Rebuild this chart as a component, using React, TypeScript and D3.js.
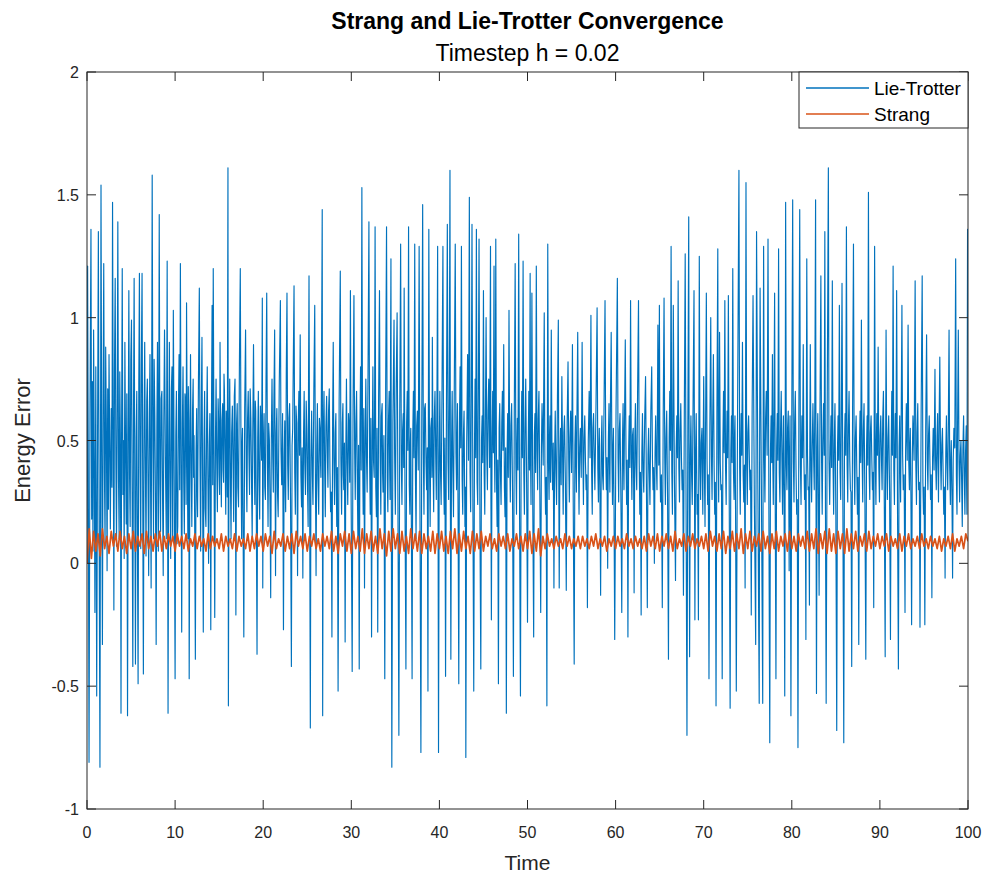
import React from "react";
import * as d3 from "d3";

// ---------- data ----------
const xTicks = [0, 10, 20, 30, 40, 50, 60, 70, 80, 90, 100];
const yTicks = [-1, -0.5, 0, 0.5, 1, 1.5, 2];
const yTickLabels = ["-1", "-0.5", "0", "0.5", "1", "1.5", "2"];
const seriesNames = ["Lie-Trotter", "Strang"];
const strangStep = 0.25;

// Lie-Trotter energy error, [time, error]
const lieTrotter00: [number, number][] = [
  [0.0,0.0],[0.07,1.21],[0.15,0.35],[0.23,-0.81],[0.34,0.62],[0.45,1.36],[0.53,0.18],[0.6,0.74],[0.68,0.05],[0.75,0.95],[0.83,0.41],[0.9,-0.2],[1.0,0.8],[1.1,-0.54],[1.2,0.52],[1.29,1.35],[1.38,0.12],[1.47,-0.83],[1.59,1.54],[1.67,0.44],[1.75,-0.33],[1.83,0.68],[1.9,1.22],[1.98,0.37],[2.05,0.08],[2.12,0.88],[2.2,0.55],[2.28,-0.03],[2.35,0.71],[2.43,0.22],[2.5,0.85],[2.58,0.46],[2.65,0.14],[2.75,0.63],[2.83,0.31],[2.9,1.47],[2.98,0.52],[3.05,-0.19],[3.12,0.79],[3.2,1.16],[3.28,0.4],[3.35,0.07],[3.43,0.66],[3.5,1.39],[3.58,0.33],[3.65,0.1],[3.72,0.78],[3.8,0.45],[3.86,-0.61],[3.93,0.57],[4.0,1.2],[4.08,0.28],[4.15,0.5],[4.22,0.02],[4.3,0.9],[4.38,0.44],[4.45,0.16],[4.52,0.69],[4.6,-0.62],[4.68,0.48],[4.75,1.11],[4.83,0.36],[4.9,0.15],[4.97,0.83],[5.05,0.99],[5.12,0.3],[5.2,-0.42],[5.28,0.62],[5.35,1.16],[5.43,0.27],[5.5,-0.41],[5.58,0.51],[5.65,0.7],[5.72,0.12],[5.8,-0.49],[5.88,0.73],[5.95,1.18],[6.03,0.39],[6.1,0.06],[6.17,0.82],[6.25,1.18],[6.33,0.24],[6.4,-0.45],[6.48,0.58],[6.55,0.9],[6.62,0.43],[6.7,0.03],[6.78,0.66],[6.85,0.75],[6.92,0.35],[7.0,-0.05],[7.08,0.61],[7.15,0.85],[7.22,0.29],[7.28,-0.1],[7.34,0.72],[7.4,1.58],[7.48,0.47],[7.55,0.1],[7.62,0.83],[7.7,0.6],[7.78,0.21],[7.85,-0.33],[7.93,0.55],[8.0,0.9],[8.05,0.38],[8.1,0.05],[8.15,0.74],[8.2,1.42],[8.28,0.32],[8.35,0.13],[8.42,0.67],[8.5,0.7],[8.58,0.26],[8.65,-0.05],[8.72,0.59],[8.8,0.95],[8.9,0.42],[9.0,0.1],[9.05,0.64],[9.1,1.23],[9.15,0.3],[9.2,-0.61],[9.28,0.48],[9.35,0.9],[9.42,0.37],[9.5,0.02],[9.58,0.71],[9.65,0.8],[9.72,0.1],[9.8,1.03],[9.9,0.34],
];
const lieTrotter10: [number, number][] = [
  [10.0,-0.47],[10.08,0.52],[10.15,0.7],[10.22,0.08],[10.3,0.15],[10.38,0.63],[10.45,0.85],[10.52,0.3],[10.6,1.22],[10.68,0.41],[10.75,-0.28],[10.83,0.57],[10.9,0.8],[10.98,0.33],[11.05,0.12],[11.12,0.69],[11.2,0.65],[11.25,0.24],[11.3,1.06],[11.38,0.46],[11.45,0.1],[11.5,0.72],[11.55,0.58],[11.6,-0.47],[11.68,0.43],[11.75,0.85],[11.83,0.37],[11.9,0.15],[11.98,0.62],[12.05,0.75],[12.1,0.35],[12.15,0.52],[12.22,0.18],[12.3,-0.39],[12.38,0.46],[12.45,0.63],[12.5,0.27],[12.55,0.19],[12.65,0.74],[12.75,1.12],[12.83,0.4],[12.9,0.05],[12.98,0.66],[13.05,0.92],[13.12,0.31],[13.2,-0.28],[13.28,0.49],[13.35,0.7],[13.42,0.22],[13.5,0.15],[13.58,0.57],[13.65,0.8],[13.72,0.36],[13.8,0.0],[13.88,0.48],[13.95,0.61],[14.0,0.3],[14.05,-0.27],[14.12,0.55],[14.2,1.05],[14.27,0.32],[14.33,1.2],[14.42,0.38],[14.5,-0.22],[14.58,0.49],[14.65,0.75],[14.72,0.43],[14.8,0.21],[14.88,0.67],[14.95,0.57],[15.0,0.36],[15.05,0.28],[15.1,0.9],[15.18,0.47],[15.25,0.23],[15.32,0.58],[15.4,0.65],[15.45,0.38],[15.5,0.33],[15.55,0.77],[15.6,0.7],[15.68,0.41],[15.75,0.2],[15.8,0.62],[15.85,0.55],[15.92,0.27],[16.0,1.61],[16.05,-0.58],[16.12,0.46],[16.2,0.75],[16.28,0.34],[16.35,0.1],[16.42,0.53],[16.5,0.64],[16.58,0.39],[16.65,0.17],[16.72,0.68],[16.8,0.75],[16.85,0.31],[16.9,-0.21],[16.98,0.57],[17.05,0.65],[17.12,0.31],[17.2,0.23],[17.3,0.81],[17.4,1.2],[17.48,0.44],[17.55,0.1],[17.6,0.49],[17.65,0.55],[17.72,0.12],[17.8,-0.3],[17.9,0.63],[18.0,0.95],[18.08,0.39],[18.15,0.21],[18.22,0.58],[18.3,0.7],[18.38,0.45],[18.45,0.28],[18.52,0.71],[18.6,0.59],[18.68,0.32],[18.75,0.1],[18.82,0.54],[18.9,0.89],[18.98,0.48],[19.05,0.24],[19.1,0.66],[19.15,0.62],[19.22,0.19],[19.3,-0.37],[19.38,0.51],[19.45,0.7],[19.52,0.35],[19.6,0.18],[19.68,0.64],[19.75,0.55],[19.82,0.42],[19.9,1.08],[19.95,-0.1],
];
const lieTrotter20: [number, number][] = [
  [20.02,0.47],[20.1,0.61],[20.18,0.31],[20.25,0.26],[20.32,0.74],[20.4,1.1],[20.48,0.42],[20.55,0.15],[20.62,0.57],[20.7,0.5],[20.78,0.22],[20.85,-0.14],[20.92,0.49],[21.0,0.75],[21.08,0.44],[21.15,0.29],[21.22,0.68],[21.3,0.95],[21.35,0.38],[21.4,-0.05],[21.48,0.53],[21.55,0.63],[21.62,0.29],[21.7,0.19],[21.82,0.72],[21.95,1.07],[22.02,0.46],[22.1,0.32],[22.2,0.61],[22.3,-0.27],[22.38,0.43],[22.45,0.58],[22.5,0.33],[22.55,0.21],[22.62,0.78],[22.7,1.1],[22.78,0.4],[22.85,0.26],[22.92,0.59],[23.0,0.65],[23.1,0.26],[23.2,-0.42],[23.28,0.48],[23.35,0.55],[23.42,0.83],[23.5,1.13],[23.58,0.37],[23.65,0.2],[23.72,0.64],[23.8,0.57],[23.85,0.31],[23.9,-0.05],[23.98,0.57],[24.05,0.7],[24.12,0.44],[24.2,0.93],[24.28,0.36],[24.35,0.23],[24.42,0.47],[24.5,-0.06],[24.58,0.52],[24.65,0.7],[24.72,0.41],[24.8,0.28],[24.88,0.66],[24.95,0.55],[25.02,0.34],[25.1,0.15],[25.15,0.77],[25.2,1.17],[25.28,0.21],[25.35,-0.67],[25.42,0.43],[25.5,0.62],[25.58,0.36],[25.65,0.24],[25.75,0.71],[25.85,1.05],[25.92,0.39],[26.0,-0.05],[26.08,0.48],[26.15,0.65],[26.22,0.34],[26.3,0.2],[26.38,0.59],[26.45,0.55],[26.5,0.42],[26.55,0.35],[26.62,0.82],[26.7,1.44],[26.75,-0.62],[26.82,0.51],[26.9,0.7],[26.98,0.38],[27.05,0.19],[27.12,0.56],[27.2,0.68],[27.28,0.45],[27.35,0.31],[27.42,0.62],[27.5,0.71],[27.58,0.37],[27.65,0.21],[27.72,0.29],[27.8,-0.3],[27.88,0.58],[27.95,0.9],[28.02,0.43],[28.1,0.24],[28.18,0.53],[28.25,0.61],[28.3,0.31],[28.35,0.15],[28.42,0.39],[28.5,-0.52],[28.62,0.66],[28.75,1.19],[28.82,0.42],[28.9,0.2],[28.98,0.57],[29.05,0.65],[29.1,0.36],[29.15,0.3],[29.22,0.49],[29.3,-0.32],[29.38,0.46],[29.45,0.75],[29.52,0.41],[29.6,0.24],[29.68,0.61],[29.75,0.55],[29.82,0.33],[29.9,1.11],[29.98,0.27],
];
const lieTrotter30: [number, number][] = [
  [30.1,-0.44],[30.2,0.64],[30.3,1.09],[30.38,0.46],[30.45,0.26],[30.52,0.57],[30.6,0.7],[30.68,0.33],[30.75,0.1],[30.82,0.48],[30.9,-0.43],[30.98,0.54],[31.05,0.8],[31.12,0.38],[31.2,1.53],[31.28,0.46],[31.35,0.2],[31.42,0.63],[31.5,-0.1],[31.58,0.52],[31.65,0.75],[31.72,0.44],[31.8,0.29],[31.9,0.78],[32.0,1.39],[32.08,0.41],[32.15,0.2],[32.22,0.59],[32.3,-0.3],[32.38,0.49],[32.45,0.8],[32.52,0.42],[32.6,0.35],[32.65,0.69],[32.7,1.37],[32.78,0.31],[32.85,0.19],[32.92,0.55],[33.0,-0.28],[33.1,0.67],[33.2,1.11],[33.28,0.43],[33.35,0.2],[33.42,0.6],[33.5,0.65],[33.55,0.37],[33.6,0.29],[33.7,0.52],[33.8,-0.47],[33.9,0.72],[34.0,1.37],[34.08,0.35],[34.15,0.21],[34.22,0.58],[34.3,0.7],[34.35,0.4],[34.4,0.26],[34.45,0.81],[34.5,1.24],[34.55,0.12],[34.6,-0.83],[34.72,0.57],[34.85,0.99],[34.92,0.44],[35.0,0.2],[35.1,0.73],[35.2,1.02],[35.3,0.18],[35.4,-0.7],[35.5,0.62],[35.6,1.3],[35.68,0.4],[35.75,0.24],[35.82,0.54],[35.9,0.61],[35.95,0.39],[36.0,1.12],[36.1,0.21],[36.2,-0.43],[36.28,0.57],[36.35,0.7],[36.42,0.46],[36.5,1.37],[36.58,0.32],[36.65,0.2],[36.7,0.49],[36.75,0.55],[36.82,0.14],[36.9,-0.47],[36.98,0.53],[37.05,0.7],[37.12,0.43],[37.2,1.3],[37.28,0.36],[37.35,0.1],[37.42,0.56],[37.5,0.62],[37.6,0.38],[37.7,1.29],[37.8,0.17],[37.9,-0.77],[38.0,0.58],[38.1,1.46],[38.18,0.44],[38.25,0.2],[38.32,0.63],[38.4,0.65],[38.48,0.41],[38.55,0.3],[38.62,0.47],[38.7,-0.52],[38.75,0.6],[38.8,1.36],[38.88,0.39],[38.95,0.15],[39.02,0.55],[39.1,0.59],[39.15,0.35],[39.2,0.92],[39.28,0.41],[39.35,0.21],[39.42,0.59],[39.5,0.7],[39.58,0.44],[39.65,0.26],[39.72,0.66],[39.8,1.29],[39.85,0.2],[39.9,-0.77],[39.98,0.43],
];
const lieTrotter40: [number, number][] = [
  [40.05,0.7],[40.12,0.38],[40.2,0.24],[40.3,0.73],[40.4,1.29],[40.48,0.36],[40.55,0.2],[40.62,0.51],[40.7,-0.46],[40.8,0.64],[40.9,1.38],[40.98,0.42],[41.05,0.26],[41.12,0.69],[41.2,1.6],[41.25,0.2],[41.3,-0.39],[41.38,0.48],[41.45,0.7],[41.52,0.39],[41.6,0.19],[41.7,0.78],[41.8,1.3],[41.88,0.45],[41.95,0.3],[42.0,0.52],[42.05,0.65],[42.12,0.2],[42.2,-0.49],[42.28,0.57],[42.35,0.8],[42.42,0.47],[42.5,1.29],[42.58,0.34],[42.65,0.2],[42.72,0.51],[42.8,0.62],[42.85,0.36],[42.9,0.15],[42.95,0.31],[43.0,-0.79],[43.1,0.49],[43.2,0.85],[43.3,0.42],[43.4,1.49],[43.48,0.37],[43.55,0.21],[43.62,0.66],[43.7,1.38],[43.8,0.25],[43.9,-0.52],[43.98,0.46],[44.05,0.75],[44.12,0.43],[44.2,1.36],[44.28,0.33],[44.35,0.24],[44.42,0.71],[44.5,1.32],[44.6,0.18],[44.7,-0.43],[44.78,0.5],[44.85,0.6],[44.92,0.41],[45.0,1.11],[45.08,0.37],[45.15,0.2],[45.22,0.58],[45.3,1.0],[45.38,0.44],[45.45,0.3],[45.52,0.62],[45.6,0.75],[45.7,0.39],[45.8,1.29],[45.85,0.26],[45.9,-0.23],[45.98,0.51],[46.05,0.7],[46.12,0.45],[46.2,1.21],[46.25,0.46],[46.3,0.29],[46.35,0.66],[46.4,1.32],[46.48,0.34],[46.55,0.15],[46.62,0.42],[46.7,-0.49],[46.78,0.55],[46.85,0.65],[46.92,0.38],[47.0,0.24],[47.08,0.57],[47.15,0.7],[47.22,0.46],[47.3,0.89],[47.38,0.31],[47.45,0.19],[47.52,0.47],[47.6,-0.61],[47.68,0.43],[47.75,0.61],[47.82,0.35],[47.9,1.03],[47.98,0.44],[48.05,0.25],[48.12,0.56],[48.2,0.65],[48.3,0.29],[48.4,-0.46],[48.5,0.61],[48.6,1.22],[48.68,0.4],[48.75,0.2],[48.8,0.48],[48.85,0.59],[48.92,0.38],[49.0,1.34],[49.1,0.21],[49.2,-0.54],[49.28,0.48],[49.35,0.7],[49.42,0.43],[49.5,1.23],[49.58,0.37],[49.65,0.2],[49.72,0.54],[49.8,0.75],[49.9,0.33],
];
const lieTrotter50: [number, number][] = [
  [50.0,-0.24],[50.08,0.46],[50.15,0.7],[50.22,0.38],[50.3,1.18],[50.35,0.41],[50.4,0.24],[50.45,0.63],[50.5,1.1],[50.6,0.22],[50.7,-0.3],[50.78,0.52],[50.85,0.61],[50.92,0.37],[51.0,1.21],[51.08,0.46],[51.15,0.3],[51.22,0.59],[51.3,0.7],[51.4,0.28],[51.5,-0.2],[51.58,0.47],[51.65,0.65],[51.78,0.4],[51.9,1.02],[51.98,0.36],[52.05,0.2],[52.12,0.35],[52.2,-0.58],[52.25,0.45],[52.3,1.3],[52.38,0.41],[52.45,0.26],[52.5,0.52],[52.55,0.6],[52.62,0.33],[52.7,0.95],[52.78,0.44],[52.85,0.3],[52.92,0.49],[53.0,-0.1],[53.08,0.44],[53.15,0.62],[53.22,0.38],[53.3,0.24],[53.4,0.68],[53.5,0.99],[53.55,0.35],[53.6,-0.1],[53.68,0.43],[53.75,0.55],[53.82,0.32],[53.9,0.76],[53.98,0.45],[54.05,0.2],[54.12,0.53],[54.2,0.6],[54.3,0.33],[54.4,-0.11],[54.5,0.57],[54.6,0.82],[54.68,0.42],[54.75,0.25],[54.82,0.51],[54.9,0.62],[55.0,0.37],[55.1,0.89],[55.2,0.19],[55.3,-0.41],[55.38,0.48],[55.45,0.6],[55.5,0.4],[55.55,0.29],[55.62,0.63],[55.7,0.94],[55.78,0.44],[55.85,0.2],[55.92,0.47],[56.0,0.55],[56.1,0.35],[56.2,0.9],[56.28,0.46],[56.35,0.24],[56.42,0.51],[56.5,0.6],[56.58,0.41],[56.65,0.3],[56.72,0.36],[56.8,-0.18],[56.9,0.5],[57.0,0.7],[57.1,0.43],[57.2,1.01],[57.28,0.37],[57.35,0.2],[57.42,0.55],[57.5,0.61],[57.58,0.42],[57.65,0.3],[57.78,0.66],[57.9,1.04],[57.98,0.39],[58.05,0.25],[58.1,0.47],[58.15,0.55],[58.22,0.29],[58.3,-0.13],[58.38,0.48],[58.45,0.6],[58.52,0.36],[58.6,0.3],[58.7,0.69],[58.8,1.07],[58.88,0.45],[58.95,0.3],[59.02,0.43],[59.1,-0.02],[59.18,0.5],[59.25,0.65],[59.3,0.41],[59.35,0.29],[59.42,0.67],[59.5,0.94],[59.58,0.43],[59.65,0.24],[59.7,0.48],[59.75,0.55],[59.82,0.24],[59.9,-0.31],[60.05,0.62],
];
const lieTrotter60: [number, number][] = [
  [60.2,1.16],[60.28,0.43],[60.35,0.25],[60.42,0.54],[60.5,0.61],[60.6,0.27],[60.7,-0.2],[60.78,0.49],[60.85,0.65],[60.9,0.4],[60.95,0.3],[61.02,0.61],[61.1,0.91],[61.18,0.44],[61.25,0.24],[61.32,0.42],[61.4,-0.3],[61.48,0.46],[61.55,0.6],[61.62,0.39],[61.7,1.07],[61.78,0.45],[61.85,0.26],[61.92,0.52],[62.0,0.55],[62.05,0.32],[62.1,-0.12],[62.18,0.49],[62.25,0.65],[62.32,0.4],[62.4,0.3],[62.5,0.71],[62.6,1.07],[62.68,0.41],[62.75,0.2],[62.82,0.37],[62.9,-0.21],[62.98,0.45],[63.05,0.61],[63.12,0.38],[63.2,0.29],[63.3,0.58],[63.4,0.76],[63.5,0.31],[63.6,-0.18],[63.68,0.44],[63.75,0.55],[63.82,0.38],[63.9,0.24],[64.0,0.62],[64.1,0.8],[64.18,0.43],[64.25,0.3],[64.32,0.39],[64.4,0.0],[64.48,0.45],[64.55,0.6],[64.62,0.41],[64.7,0.3],[64.75,0.63],[64.8,0.97],[64.9,0.4],[64.97,1.05],[65.03,0.42],[65.1,0.25],[65.2,0.36],[65.3,-0.18],[65.4,0.57],[65.5,1.08],[65.58,0.43],[65.65,0.24],[65.72,0.51],[65.8,0.62],[65.9,0.26],[66.0,-0.39],[66.08,0.51],[66.15,0.7],[66.22,0.46],[66.3,1.29],[66.38,0.37],[66.45,0.2],[66.5,0.61],[66.55,1.05],[66.68,0.33],[66.8,-0.07],[66.88,0.47],[66.95,0.6],[67.02,0.43],[67.1,1.15],[67.18,0.39],[67.25,0.25],[67.32,0.54],[67.4,0.65],[67.48,0.42],[67.55,0.3],[67.62,0.38],[67.7,-0.13],[67.8,0.61],[67.9,1.26],[68.0,0.22],[68.1,-0.7],[68.2,0.55],[68.3,1.41],[68.35,0.3],[68.4,-0.38],[68.48,0.44],[68.55,0.6],[68.62,0.37],[68.7,0.24],[68.8,0.68],[68.9,1.11],[68.95,0.4],[69.0,-0.23],[69.08,0.46],[69.15,0.61],[69.2,0.38],[69.25,0.2],[69.32,0.28],[69.4,-0.23],[69.45,0.52],[69.5,1.25],[69.58,0.4],[69.65,0.26],[69.72,0.49],[69.8,0.55],[69.85,0.36],[69.9,0.2],[69.95,0.5],
];
const lieTrotter70: [number, number][] = [
  [70.0,0.76],[70.08,0.38],[70.15,0.15],[70.22,0.6],[70.3,1.1],[70.38,0.42],[70.45,0.24],[70.52,0.36],[70.6,-0.47],[70.7,0.55],[70.8,1.0],[70.88,0.44],[70.95,0.26],[71.02,0.58],[71.1,0.85],[71.18,0.4],[71.25,0.2],[71.32,0.33],[71.4,-0.58],[71.5,0.61],[71.6,1.28],[71.65,0.43],[71.7,0.25],[71.75,0.6],[71.8,0.94],[71.88,0.41],[71.95,0.3],[72.02,0.32],[72.1,-0.47],[72.18,0.49],[72.25,0.7],[72.32,0.45],[72.4,1.07],[72.48,0.39],[72.55,0.24],[72.6,0.48],[72.65,0.62],[72.72,0.43],[72.8,1.09],[72.9,0.24],[73.0,-0.59],[73.08,0.46],[73.15,0.6],[73.22,0.41],[73.3,1.2],[73.38,0.37],[73.45,0.26],[73.5,0.52],[73.55,0.6],[73.62,0.19],[73.7,-0.52],[73.85,0.66],[74.0,1.6],[74.08,0.39],[74.15,0.2],[74.2,0.49],[74.25,0.61],[74.32,0.44],[74.4,0.9],[74.48,0.36],[74.55,0.25],[74.62,0.4],[74.7,-0.1],[74.75,0.62],[74.8,1.55],[74.88,0.4],[74.95,0.24],[75.02,0.53],[75.1,0.6],[75.18,0.43],[75.25,0.3],[75.32,0.38],[75.4,-0.21],[75.5,0.63],[75.6,1.09],[75.75,0.25],[75.9,-0.33],[75.95,0.52],[76.0,1.35],[76.15,0.3],[76.3,-0.57],[76.35,0.49],[76.4,1.12],[76.55,0.3],[76.7,-0.57],[76.75,0.54],[76.8,1.29],[76.88,0.42],[76.95,0.25],[77.02,0.58],[77.1,0.7],[77.2,0.44],[77.3,1.32],[77.4,0.2],[77.5,-0.73],[77.58,0.46],[77.65,0.6],[77.72,0.41],[77.8,0.85],[77.85,0.4],[77.9,0.24],[77.98,0.66],[78.05,1.1],[78.12,0.24],[78.2,-0.47],[78.28,0.47],[78.35,0.61],[78.42,0.42],[78.5,1.28],[78.58,0.37],[78.65,0.25],[78.72,0.53],[78.8,0.7],[78.88,0.41],[78.95,0.2],[79.0,0.44],[79.05,0.6],[79.12,0.27],[79.2,-0.54],[79.25,0.48],[79.3,1.47],[79.38,0.4],[79.45,0.3],[79.52,0.55],[79.6,0.62],[79.65,0.33],[79.7,-0.03],[79.75,0.45],[79.8,0.6],[79.85,0.18],[79.9,-0.62],[80.0,0.61],
];
const lieTrotter80: [number, number][] = [
  [80.1,1.48],[80.18,0.41],[80.25,0.25],[80.32,0.57],[80.4,0.7],[80.48,0.38],[80.55,0.2],[80.62,0.26],[80.7,-0.75],[80.8,0.58],[80.9,1.44],[80.98,0.4],[81.05,0.24],[81.1,0.49],[81.15,0.6],[81.22,0.43],[81.3,0.89],[81.38,0.41],[81.45,0.26],[81.52,0.36],[81.6,-0.31],[81.65,0.52],[81.7,1.24],[81.78,0.44],[81.85,0.3],[81.92,0.31],[82.0,-0.17],[82.05,0.54],[82.1,0.89],[82.18,0.38],[82.25,0.25],[82.32,0.48],[82.4,0.65],[82.48,0.43],[82.55,0.3],[82.62,0.71],[82.7,1.48],[82.75,0.26],[82.8,-0.53],[82.88,0.47],[82.95,0.61],[83.02,0.28],[83.1,-0.13],[83.2,0.62],[83.3,1.17],[83.38,0.42],[83.45,0.2],[83.52,0.5],[83.6,0.65],[83.68,0.44],[83.75,1.35],[83.82,0.22],[83.9,-0.57],[84.02,0.64],[84.15,1.61],[84.22,0.42],[84.3,0.24],[84.38,0.47],[84.45,0.6],[84.52,0.39],[84.6,1.15],[84.68,0.4],[84.75,0.2],[84.82,0.49],[84.9,0.65],[85.0,0.2],[85.1,-0.68],[85.18,0.45],[85.25,0.6],[85.32,0.42],[85.4,1.05],[85.48,0.37],[85.55,0.26],[85.62,0.58],[85.7,1.14],[85.8,0.21],[85.9,-0.73],[85.98,0.49],[86.05,0.61],[86.12,0.44],[86.2,1.37],[86.28,0.4],[86.35,0.25],[86.42,0.55],[86.5,0.7],[86.58,0.42],[86.65,0.3],[86.72,0.29],[86.8,-0.42],[86.9,0.63],[87.0,1.3],[87.08,0.41],[87.15,0.24],[87.22,0.51],[87.3,0.6],[87.38,0.37],[87.45,0.2],[87.52,0.35],[87.6,-0.33],[87.68,0.48],[87.75,0.62],[87.82,0.41],[87.9,0.99],[87.98,0.44],[88.05,0.25],[88.12,0.54],[88.2,0.65],[88.3,0.24],[88.4,-0.39],[88.48,0.46],[88.55,0.6],[88.62,0.4],[88.7,1.51],[88.78,0.38],[88.85,0.26],[88.92,0.53],[89.0,0.6],[89.08,0.43],[89.15,0.3],[89.22,0.37],[89.3,-0.18],[89.35,0.57],[89.4,1.29],[89.48,0.41],[89.55,0.24],[89.6,0.5],[89.65,0.61],[89.72,0.44],[89.8,0.88],[89.88,0.39],
];
const lieTrotter90: [number, number][] = [
  [89.95,0.25],[90.02,0.52],[90.1,0.6],[90.18,0.42],[90.25,0.3],[90.32,0.58],[90.4,0.7],[90.5,0.24],[90.6,-0.38],[90.65,0.47],[90.7,0.95],[90.78,0.41],[90.85,0.26],[90.92,0.51],[91.0,0.6],[91.1,0.29],[91.2,-0.31],[91.28,0.46],[91.35,0.7],[91.42,0.44],[91.5,1.21],[91.58,0.38],[91.65,0.24],[91.7,0.48],[91.75,0.61],[91.82,0.43],[91.9,1.11],[92.0,0.22],[92.1,-0.43],[92.18,0.47],[92.25,0.6],[92.3,0.37],[92.35,0.25],[92.42,0.61],[92.5,1.05],[92.58,0.44],[92.65,0.3],[92.75,0.36],[92.85,-0.2],[92.92,0.46],[93.0,0.65],[93.1,0.42],[93.2,0.97],[93.28,0.41],[93.35,0.3],[93.4,0.49],[93.45,0.55],[93.52,0.28],[93.6,-0.25],[93.68,0.44],[93.75,0.6],[93.88,0.42],[94.0,1.15],[94.08,0.4],[94.15,0.24],[94.22,0.53],[94.3,0.65],[94.35,0.43],[94.4,0.3],[94.48,0.33],[94.55,-0.26],[94.68,0.61],[94.8,1.17],[94.88,0.33],[94.95,0.2],[95.02,0.31],[95.1,-0.25],[95.2,0.55],[95.3,0.93],[95.38,0.42],[95.45,0.3],[95.52,0.52],[95.6,0.6],[95.68,0.41],[95.75,0.26],[95.82,0.36],[95.9,-0.14],[95.98,0.43],[96.05,0.55],[96.15,0.38],[96.25,0.79],[96.32,0.42],[96.4,0.3],[96.48,0.51],[96.55,0.61],[96.6,0.39],[96.65,0.25],[96.72,0.57],[96.8,0.84],[96.88,0.43],[96.95,0.3],[97.02,0.48],[97.1,0.55],[97.18,0.36],[97.25,0.2],[97.32,0.31],[97.4,-0.06],[97.48,0.45],[97.55,0.6],[97.62,0.41],[97.7,0.3],[97.78,0.62],[97.85,0.95],[97.92,0.4],[98.0,0.24],[98.05,0.43],[98.1,0.5],[98.18,0.27],[98.25,-0.06],[98.32,0.42],[98.4,0.55],[98.5,0.47],[98.6,1.24],[98.68,0.36],[98.75,0.2],[98.82,0.58],[98.9,0.95],[98.98,0.41],[99.05,0.25],[99.12,0.44],[99.2,0.5],[99.28,0.33],[99.35,0.15],[99.42,0.46],[99.5,0.6],[99.58,0.36],[99.65,0.2],[99.72,0.45],[99.8,0.56],[99.84,0.32],[99.88,0.2],[99.95,1.36],[100.0,0.91],
];

// Strang energy error, one value every 0.25 time units
const strang00 = [0.00,0.14,0.02,0.13,0.05,0.12,0.03,0.14,0.06,0.11,0.04,0.13,0.07,0.12,0.05,0.13,0.06,0.11,0.04,0.12, 0.06,0.13,0.05,0.11,0.07,0.12,0.04,0.13,0.06,0.11,0.05,0.12,0.07,0.13,0.05,0.11,0.06,0.12,0.07,0.11];
const strang10 = [0.05,0.12,0.07,0.11,0.06,0.12,0.05,0.10,0.07,0.12,0.06,0.11,0.07,0.10,0.05,0.12,0.06,0.11,0.07,0.10, 0.06,0.12,0.05,0.11,0.07,0.10,0.06,0.12,0.05,0.11,0.07,0.10,0.06,0.12,0.05,0.11,0.06,0.12,0.07,0.11];
const strang20 = [0.05,0.12,0.07,0.11,0.04,0.13,0.06,0.10,0.07,0.12,0.05,0.11,0.06,0.12,0.04,0.13,0.07,0.11,0.06,0.12, 0.05,0.11,0.07,0.12,0.06,0.10,0.05,0.12,0.07,0.11,0.06,0.13,0.05,0.11,0.04,0.12,0.07,0.13,0.05,0.12];
const strang30 = [0.04,0.13,0.06,0.11,0.05,0.14,0.04,0.12,0.06,0.13,0.05,0.11,0.04,0.14,0.06,0.12,0.03,0.13,0.05,0.14, 0.06,0.12,0.04,0.13,0.05,0.11,0.04,0.14,0.06,0.12,0.05,0.13,0.04,0.12,0.06,0.11,0.05,0.13,0.04,0.12];
const strang40 = [0.06,0.13,0.05,0.11,0.04,0.13,0.06,0.14,0.04,0.12,0.05,0.13,0.06,0.11,0.04,0.13,0.05,0.12,0.06,0.13, 0.05,0.11,0.07,0.12,0.06,0.10,0.05,0.12,0.07,0.11,0.06,0.12,0.05,0.10,0.07,0.12,0.06,0.11,0.05,0.12];
const strang50 = [0.06,0.13,0.04,0.12,0.05,0.14,0.03,0.11,0.06,0.12,0.07,0.10,0.06,0.11,0.07,0.10,0.06,0.12,0.07,0.11, 0.06,0.10,0.07,0.11,0.06,0.11,0.07,0.10,0.06,0.11,0.07,0.12,0.06,0.10,0.07,0.11,0.05,0.10,0.07,0.11];
const strang60 = [0.06,0.11,0.07,0.10,0.06,0.12,0.07,0.10,0.06,0.11,0.07,0.10,0.06,0.11,0.05,0.12,0.07,0.11,0.06,0.12, 0.05,0.11,0.07,0.12,0.06,0.11,0.05,0.13,0.06,0.10,0.07,0.12,0.05,0.11,0.07,0.12,0.06,0.10,0.07,0.11];
const strang70 = [0.06,0.12,0.05,0.13,0.07,0.11,0.05,0.12,0.06,0.13,0.04,0.11,0.06,0.13,0.05,0.12,0.06,0.14,0.04,0.12, 0.06,0.13,0.05,0.11,0.07,0.12,0.05,0.13,0.06,0.11,0.04,0.12,0.06,0.13,0.05,0.11,0.07,0.12,0.05,0.13];
const strang80 = [0.06,0.11,0.05,0.12,0.07,0.11,0.06,0.13,0.05,0.12,0.06,0.14,0.04,0.12,0.06,0.13,0.04,0.14,0.05,0.12, 0.04,0.13,0.06,0.12,0.04,0.14,0.05,0.12,0.06,0.13,0.05,0.11,0.07,0.12,0.05,0.13,0.06,0.11,0.07,0.12];
const strang90 = [0.06,0.11,0.07,0.12,0.05,0.11,0.07,0.10,0.06,0.12,0.05,0.11,0.07,0.12,0.06,0.10,0.07,0.11,0.06,0.12, 0.07,0.10,0.06,0.11,0.07,0.10,0.06,0.11,0.05,0.10,0.07,0.11,0.06,0.12,0.05,0.10,0.07,0.11,0.06,0.12, 0.09];

const lieTrotter: [number, number][] = [
  ...lieTrotter00, ...lieTrotter10, ...lieTrotter20, ...lieTrotter30, ...lieTrotter40,
  ...lieTrotter50, ...lieTrotter60, ...lieTrotter70, ...lieTrotter80, ...lieTrotter90,
];
const strangValues = [
  ...strang00, ...strang10, ...strang20, ...strang30, ...strang40,
  ...strang50, ...strang60, ...strang70, ...strang80, ...strang90,
];
const strang: [number, number][] = strangValues.map((v, i) => [i * strangStep, v]);

// ---------- layout ----------
const W = 988;
const H = 876;
const L = 87, R = 968, T = 72, B = 809;
const AX = "#262626";
const FONT = "'Liberation Sans', Arial, Helvetica, sans-serif";
const BLUE = "#0072BD";
const ORANGE = "#D95319";

export default function App() {
  const x = d3.scaleLinear().domain([0, 100]).range([L, R]);
  const y = d3.scaleLinear().domain([-1, 2]).range([B, T]);
  const line = d3.line<[number, number]>().x((d) => x(d[0])).y((d) => y(d[1]));
  const tickLen = 9;

  return (
    <svg width={W} height={H} style={{ position: "absolute", left: 0, top: 0, background: "#fff" }}
      fontFamily={FONT}>
      <rect x={0} y={0} width={W} height={H} fill="#fff" />
      <defs>
        <clipPath id="plotClip">
          <rect x={L} y={T} width={R - L} height={B - T} />
        </clipPath>
      </defs>

      <g clipPath="url(#plotClip)" fill="none">
        <path d={line(lieTrotter) || ""} stroke={BLUE} strokeWidth={1.15} strokeLinejoin="round" />
        <path d={line(strang) || ""} stroke={ORANGE} strokeWidth={1.7} strokeLinejoin="round" />
      </g>

      {/* axes box */}
      <rect x={L} y={T} width={R - L} height={B - T} fill="none" stroke={AX} strokeWidth={1} />

      {/* x ticks */}
      {xTicks.map((t) => (
        <g key={"x" + t}>
          <line x1={x(t)} x2={x(t)} y1={B} y2={B - tickLen} stroke={AX} />
          <line x1={x(t)} x2={x(t)} y1={T} y2={T + tickLen} stroke={AX} />
          <text x={x(t)} y={838} textAnchor="middle" fontSize={16} fill={AX}>{t}</text>
        </g>
      ))}
      {/* y ticks */}
      {yTicks.map((t, i) => (
        <g key={"y" + t}>
          <line x1={L} x2={L + tickLen} y1={y(t)} y2={y(t)} stroke={AX} />
          <line x1={R} x2={R - tickLen} y1={y(t)} y2={y(t)} stroke={AX} />
          <text x={79} y={y(t) + 6} textAnchor="end" fontSize={16} fill={AX}>{yTickLabels[i]}</text>
        </g>
      ))}

      {/* labels */}
      <text x={(L + R) / 2} y={870} textAnchor="middle" fontSize={21} fill={AX}>Time</text>
      <text transform={`translate(30, ${(T + B) / 2}) rotate(-90)`} textAnchor="middle" fontSize={22} fill={AX}>Energy Error</text>
      <text x={(L + R) / 2} y={29} textAnchor="middle" fontSize={23} fontWeight="bold" fill="#000">Strang and Lie-Trotter Convergence</text>
      <text x={(L + R) / 2} y={61} textAnchor="middle" fontSize={23} fill="#000">Timestep h = 0.02</text>

      {/* legend */}
      <g>
        <rect x={799} y={T} width={R - 799} height={56} fill="#fff" stroke={AX} strokeWidth={1} />
        <line x1={806} x2={869} y1={88} y2={88} stroke={BLUE} strokeWidth={1.3} />
        <text x={874} y={95} fontSize={19} fill="#000">{seriesNames[0]}</text>
        <line x1={806} x2={869} y1={114} y2={114} stroke={ORANGE} strokeWidth={1.3} />
        <text x={874} y={121} fontSize={19} fill="#000">{seriesNames[1]}</text>
      </g>
    </svg>
  );
}
